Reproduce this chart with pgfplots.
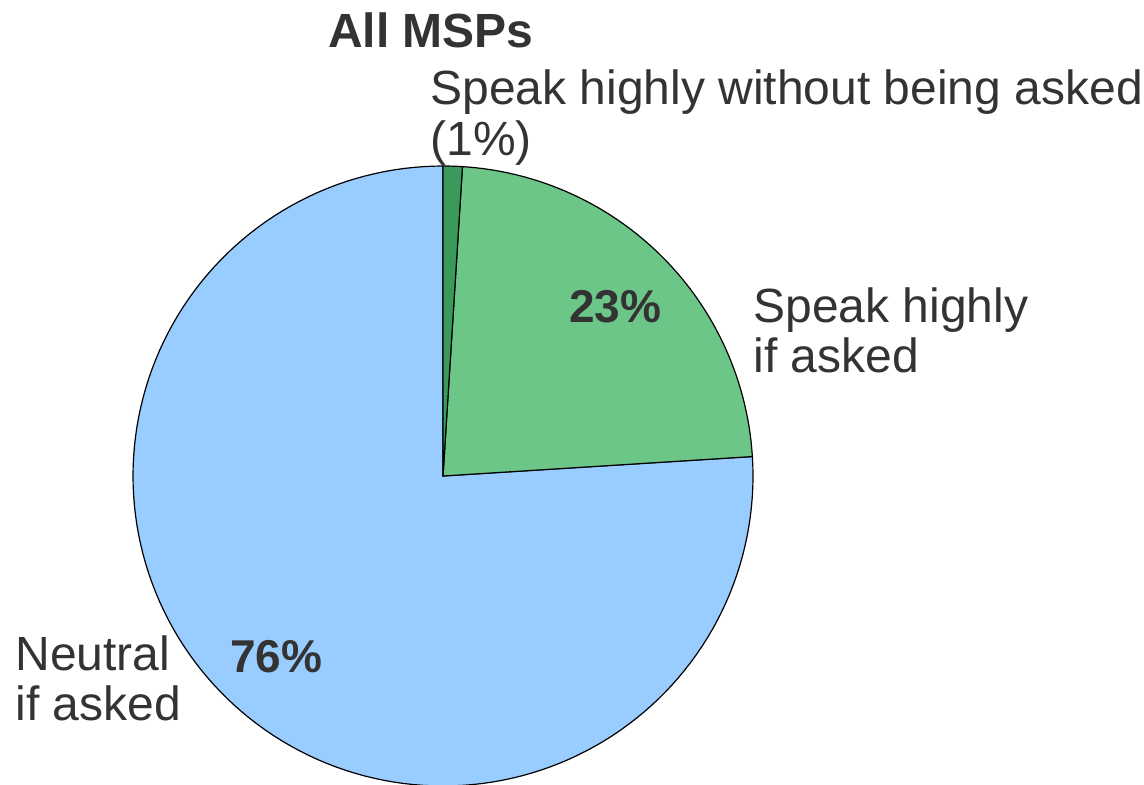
\documentclass[border=0pt]{standalone}
\usepackage{pgfplots}
\usepackage{pgfplotstable}
\pgfplotsset{compat=1.18}
\usepackage{fontspec}
\setmainfont{Liberation Sans}
\definecolor{cdark}{HTML}{3A9A5B}
\definecolor{cgreen}{HTML}{6CC687}
\definecolor{cblue}{HTML}{99CCFF}
\definecolor{ctext}{HTML}{333333}
\pgfplotstableread{
label value
without 1
ifasked 23
neutral 76
}\piedata
\begin{document}%
\begin{tikzpicture}
\pgfplotstablegetelem{0}{value}\of\piedata \let\vA\pgfplotsretval
\pgfplotstablegetelem{1}{value}\of\piedata \let\vB\pgfplotsretval
\pgfplotstablegetelem{2}{value}\of\piedata \let\vC\pgfplotsretval
\pgfmathsetmacro{\aO}{90}
\pgfmathsetmacro{\aA}{\aO-3.6*\vA}
\pgfmathsetmacro{\aB}{\aA-3.6*\vB}
\pgfmathsetmacro{\aC}{\aB-3.6*\vC}
\begin{axis}[width=572pt, height=392pt, scale only axis,
  xmin=0, xmax=1144, ymin=0, ymax=784, hide axis, clip mode=individual]
\addplot[fill=cblue, draw=black, line width=0.6pt, domain=\aC:\aB, samples=150, variable=\t]
  ({443+310*cos(\t)},{308+310*sin(\t)}) -- (axis cs:443,308) -- cycle;
\addplot[fill=cgreen, draw=black, line width=0.6pt, domain=\aB:\aA, samples=60, variable=\t]
  ({443+310*cos(\t)},{308+310*sin(\t)}) -- (axis cs:443,308) -- cycle;
\addplot[fill=cdark, draw=black, line width=0.6pt, domain=\aA:\aO, samples=10, variable=\t]
  ({443+310*cos(\t)},{308+310*sin(\t)}) -- (axis cs:443,308) -- cycle;
\begin{scope}[every node/.style={text=ctext, font=\fontsize{24}{26}\selectfont, inner sep=0pt}]
\node[anchor=base, font=\fontsize{24}{26}\selectfont\bfseries] at (axis cs:431,737) {All MSPs};
\node[anchor=base west] at (axis cs:430,680) {Speak highly without being asked};
\node[anchor=base west] at (axis cs:430,629) {(1\%)};
\node[anchor=base west] at (axis cs:753,462) {Speak highly};
\node[anchor=base west] at (axis cs:753,412) {if asked};
\node[anchor=base west] at (axis cs:15,114) {Neutral};
\node[anchor=base west] at (axis cs:15,64) {if asked};
\node[anchor=base west, font=\fontsize{23}{26}\selectfont\bfseries] at (axis cs:569,462) {23\%};
\node[anchor=base west, font=\fontsize{23}{26}\selectfont\bfseries] at (axis cs:230,112) {76\%};
\end{scope}
\coordinate (LL) at (rel axis cs:0,0);
\coordinate (UR) at (rel axis cs:1,1);
\end{axis}
\pgfresetboundingbox
\useasboundingbox (LL) rectangle (UR);
\end{tikzpicture}%
\end{document}
